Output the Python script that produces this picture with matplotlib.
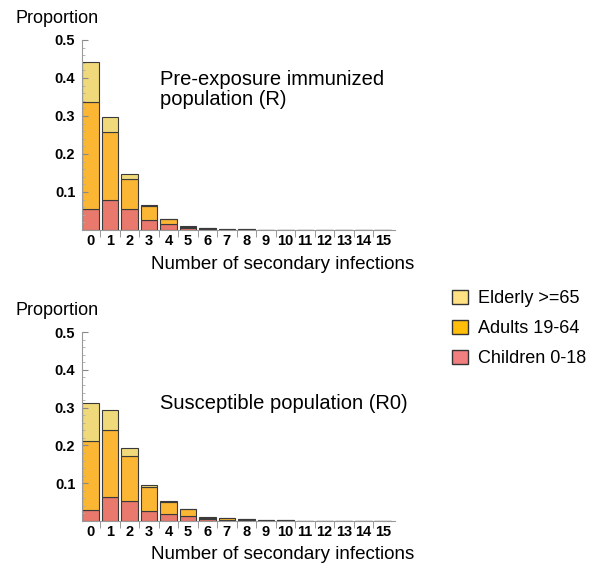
import numpy as np
import matplotlib
matplotlib.use("Agg")
import matplotlib.pyplot as plt
from matplotlib.patches import Patch

plt.rcParams['font.family'] = ['Liberation Sans', 'DejaVu Sans']

# ------------------------------------------------
# Data
# ------------------------------------------------
infections = np.arange(16)
tick_labels = [str(i) for i in infections]

# Pre-exposure immunized population (R)
r_children = [0.054, 0.079, 0.054, 0.025, 0.016, 0.004, 0.002, 0.001, 0.0008, 0.0004,
              0.0002, 0.0001, 0.0001, 0.0001, 0.0001, 0.0001]
r_adults = [0.284, 0.180, 0.081, 0.039, 0.012, 0.005, 0.003, 0.0015, 0.0008, 0.0004,
            0.0002, 0.0001, 0.0001, 0.0001, 0.0001, 0.0001]
r_elderly = [0.104, 0.038, 0.011, 0.001, 0.002, 0.001, 0.001, 0.0005, 0.0002, 0.0002,
             0.0001, 0.0001, 0.0001, 0.0001, 0.0001, 0.0001]

# Susceptible population (R0)
s_children = [0.030, 0.064, 0.053, 0.027, 0.018, 0.012, 0.004, 0.003, 0.002, 0.001,
              0.001, 0.0005, 0.0005, 0.0005, 0.0005, 0.0005]
s_adults = [0.183, 0.176, 0.118, 0.064, 0.033, 0.019, 0.005, 0.004, 0.002, 0.001,
            0.0008, 0.0004, 0.0004, 0.0004, 0.0004, 0.0004]
s_elderly = [0.099, 0.053, 0.023, 0.005, 0.003, 0.0005, 0.001, 0.001, 0.0005, 0.0002,
             0.0002, 0.0001, 0.0001, 0.0001, 0.0001, 0.0001]

groups = ["Elderly >=65", "Adults 19-64", "Children 0-18"]
colors = {"Elderly >=65": "#EFD97A", "Adults 19-64": "#FBB634", "Children 0-18": "#E8796C"}
legend_colors = {"Elderly >=65": "#FFE082", "Adults 19-64": "#FFBE0A", "Children 0-18": "#F27F7F"}

# ------------------------------------------------
# Plot
# ------------------------------------------------
fig = plt.figure(figsize=(6, 5.76), dpi=100)
ax_top = fig.add_axes([0.137, 0.6007, 0.521, 0.33])
ax_bot = fig.add_axes([0.137, 0.0955, 0.521, 0.328])


def stacked_panel(ax, children, adults, elderly, label, label_y):
    children = np.array(children)
    adults = np.array(adults)
    elderly = np.array(elderly)
    kw = dict(width=0.85, edgecolor="#3a3a3a", linewidth=0.8)
    ax.bar(infections, children, color=colors["Children 0-18"], **kw)
    ax.bar(infections, adults, bottom=children, color=colors["Adults 19-64"], **kw)
    ax.bar(infections, elderly, bottom=children + adults, color=colors["Elderly >=65"], **kw)

    ax.set_xlim(-0.43, 15.62)
    ax.set_ylim(0, 0.5)
    ax.set_xticks(infections)
    ax.set_xticklabels(tick_labels, fontweight="bold", fontsize=10.5)
    ax.set_xticks(infections[:-1] + 0.5, minor=True)
    ax.tick_params(axis="x", which="major", length=0, pad=3)
    ax.tick_params(axis="x", which="minor", length=5, direction="out", color="#888888")

    ax.set_yticks([0.1, 0.2, 0.3, 0.4, 0.5])
    ax.set_yticklabels(["0.1", "0.2", "0.3", "0.4", "0.5"], fontweight="bold", fontsize=10.5)
    ax.set_yticks(np.arange(0.02, 0.5, 0.02), minor=True)
    ax.tick_params(axis="y", which="major", length=4, direction="in", color="#888888", pad=5)
    ax.tick_params(axis="y", which="minor", length=2, direction="in", color="#aaaaaa")

    for s in ["top", "right"]:
        ax.spines[s].set_visible(False)
    for s in ["left", "bottom"]:
        ax.spines[s].set_color("#999999")
        ax.spines[s].set_linewidth(0.8)

    ax.set_xlabel("Number of secondary infections", fontsize=13.5)
    ax.xaxis.set_label_coords(0.64, -0.135)
    ax.text(-0.213, 1.07, "Proportion", transform=ax.transAxes, fontsize=13,
            ha="left", va="bottom")
    ax.text(0.25, label_y, label, transform=ax.transAxes, fontsize=14.5,
            ha="left", va="center", linespacing=1.1)


stacked_panel(ax_top, r_children, r_adults, r_elderly,
              "Pre-exposure immunized\npopulation (R)", 0.74)
stacked_panel(ax_bot, s_children, s_adults, s_elderly,
              "Susceptible population (R0)", 0.62)

handles = [Patch(facecolor=legend_colors[g], edgecolor="#333333", linewidth=1.0, label=g)
           for g in groups]
fig.legend(handles=handles, loc="upper left", bbox_to_anchor=(0.727, 0.525),
           frameon=False, fontsize=13, handlelength=0.85, handleheight=0.85,
           handletextpad=0.55, labelspacing=0.7)

fig.savefig("out.png", dpi=100)
